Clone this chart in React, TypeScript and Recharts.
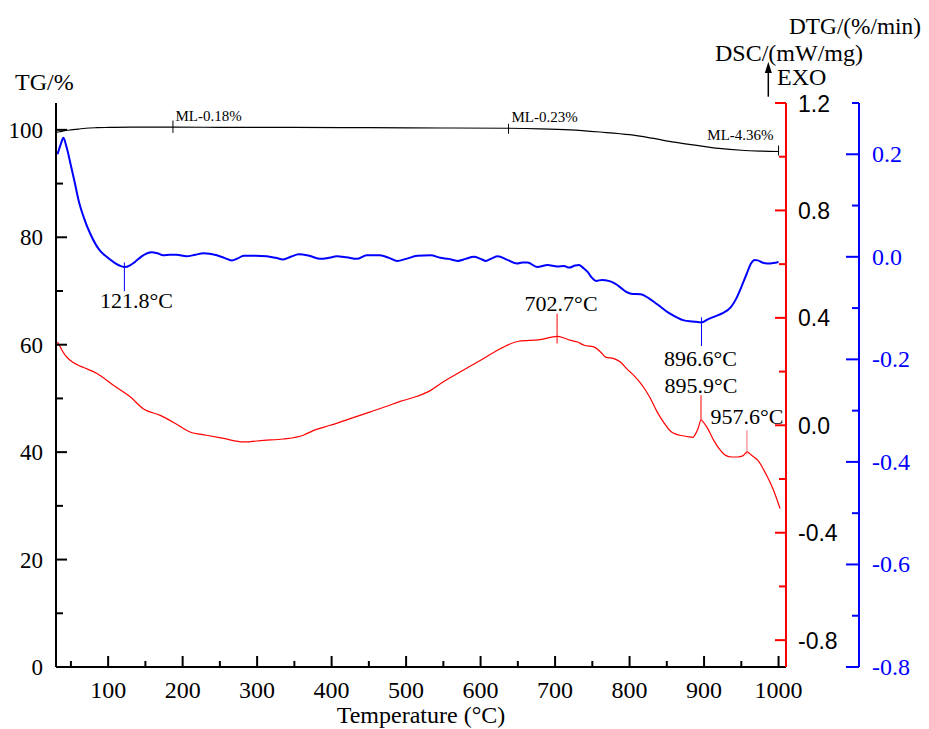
import React from "react";
import { LineChart, Line, XAxis, YAxis, ReferenceLine } from "recharts";

const SERIF = '"Liberation Serif", "Times New Roman", serif';
const SANS = '"Liberation Sans", Arial, sans-serif';

// TG (mass, %)
const tgTemp = [30, 35, 40, 50, 60, 70, 85, 100, 130, 187, 250, 350, 450, 550, 637.5, 680, 720, 760, 800, 830, 860, 890, 920, 950, 975, 1000];
const tgMass = [99.55, 99.65, 99.8, 100.0, 100.15, 100.3, 100.4, 100.45, 100.5, 100.5, 100.48, 100.45, 100.4, 100.35, 100.3, 100.2, 100.0, 99.6, 99.1, 98.45, 97.7, 97.1, 96.55, 96.2, 96.05, 95.97];

// DTG (%/min)
const dtgTemp = [32, 36, 40, 44, 50, 55, 60, 67, 76, 89, 98, 107, 115, 121.8, 130, 136, 145, 158, 166, 174, 183, 192, 205, 217, 228, 246, 256, 266, 274, 282, 298, 313, 325, 335, 345, 356, 370, 385, 396, 407, 420, 434, 447, 465, 477, 488, 500, 515, 533, 546, 557, 569, 580, 591, 600, 607, 615, 623, 636, 649, 656, 663, 676, 690, 703, 712, 719, 727, 732, 738, 744, 749, 755, 763, 772, 780, 788, 795, 802, 815, 825, 833, 842, 851, 862, 873, 885, 896.6, 905, 913, 925, 936, 943, 950, 957, 963, 968, 972, 978, 985, 993, 1000];
const dtgRate = [0.2, 0.218, 0.232, 0.215, 0.178, 0.146, 0.112, 0.078, 0.045, 0.012, 0.0, -0.01, -0.017, -0.02, -0.016, -0.01, 0.001, 0.009, 0.007, 0.003, 0.004, 0.004, 0.001, 0.004, 0.007, 0.003, -0.002, -0.007, -0.003, 0.002, 0.002, 0.001, -0.002, -0.005, 0.0, 0.005, 0.002, -0.004, -0.002, 0.001, -0.001, -0.004, 0.003, 0.003, -0.002, -0.008, -0.004, 0.002, 0.003, -0.002, -0.004, -0.008, -0.004, 0.0, -0.004, -0.008, -0.003, 0.001, -0.006, -0.013, -0.011, -0.011, -0.02, -0.016, -0.019, -0.018, -0.021, -0.017, -0.016, -0.022, -0.03, -0.04, -0.047, -0.045, -0.047, -0.052, -0.06, -0.068, -0.072, -0.073, -0.08, -0.088, -0.098, -0.108, -0.117, -0.124, -0.126, -0.128, -0.122, -0.117, -0.11, -0.098, -0.082, -0.059, -0.034, -0.013, -0.006, -0.007, -0.011, -0.013, -0.012, -0.01];

// DSC (mW/mg)
const dscTemp = [32, 36, 42, 49, 58, 67, 85, 107, 130, 147, 170, 192, 210, 232, 255, 282, 309, 335, 362, 376, 398, 425, 452, 474, 492, 515, 533, 546, 573, 600, 627, 651, 680, 703, 712, 721, 730, 739, 752, 761, 768, 779, 788, 797, 806, 820, 828, 837, 846, 855, 862, 869, 878, 885, 889, 892, 896, 899, 904, 913, 921, 929, 937, 945, 952, 958, 963, 972, 985, 993, 1002];
const dscFlow = [0.31, 0.29, 0.262, 0.242, 0.226, 0.215, 0.193, 0.149, 0.105, 0.062, 0.037, 0.004, -0.025, -0.037, -0.049, -0.062, -0.056, -0.051, -0.037, -0.019, 0.0, 0.025, 0.05, 0.071, 0.089, 0.108, 0.13, 0.155, 0.199, 0.242, 0.286, 0.313, 0.319, 0.331, 0.325, 0.316, 0.31, 0.298, 0.292, 0.273, 0.254, 0.248, 0.235, 0.208, 0.185, 0.137, 0.1, 0.05, 0.01, -0.022, -0.033, -0.038, -0.042, -0.045, -0.03, -0.012, 0.02, 0.012, -0.008, -0.056, -0.09, -0.112, -0.118, -0.118, -0.114, -0.099, -0.11, -0.13, -0.192, -0.24, -0.31];

// axis ticks
const xTicks = [50, 100, 150, 200, 250, 300, 350, 400, 450, 500, 550, 600, 650, 700, 750, 800, 850, 900, 950, 1000];
const tgTicks = [0, 10, 20, 30, 40, 50, 60, 70, 80, 90, 100];
const dscTicks = [-0.8, -0.6, -0.4, -0.2, 0, 0.2, 0.4, 0.6, 0.8, 1.0, 1.2];
const dtgTicks = [-0.8, -0.7, -0.6, -0.5, -0.4, -0.3, -0.2, -0.1, 0, 0.1, 0.2, 0.3];

// annotations: mass-loss marks on TG, peaks on DTG / DSC
const mlTemps = [187, 637.5, 1000];
const mlLabels = ["ML-0.18%", "ML-0.23%", "ML-4.36%"];
const mlSpans = [[101.73, 99.44], [101.12, 99.26], [97.08, 95.22]];

const dtgPeakTemps = [121.8, 896.6];
const dtgSpans = [[-0.011, -0.067], [-0.118, -0.174]];

const dscPeakTemps = [702.7, 895.9, 957.6];
const dscSpans = [[0.416, 0.304], [0.112, 0.021], [-0.0185, -0.108]];

const toPoints = (ts: number[], vs: number[]) => ts.map((t, i) => ({ t, v: vs[i] }));
const tgData = toPoints(tgTemp, tgMass);
const dtgData = toPoints(dtgTemp, dtgRate);
const dscData = toPoints(dscTemp, dscFlow);

const near = (a: number, b: number) => Math.abs(a - b) < 1e-6;
const isMajor = (v: number, step: number) => near(Math.round(v / step) * step, v);

function BottomTick(props: any) {
  const { x, y, payload } = props;
  const v = payload.value;
  const major = v % 100 === 0;
  return (
    <g>
      <line x1={x} x2={x} y1={y} y2={y - (major ? 11 : 6)} stroke="#000" strokeWidth={2} />
      {major && (
        <text x={x} y={y + 31} textAnchor="middle" fontSize={24} fontFamily={SERIF} fill="#000">
          {v}
        </text>
      )}
    </g>
  );
}

function TopTick(props: any) {
  const { x, y } = props;
  return <line x1={x} x2={x} y1={y} y2={y + 3} stroke="#555" strokeWidth={1} />;
}

function LeftTick(props: any) {
  const { x, y, payload } = props;
  const v = payload.value;
  const major = v % 20 === 0;
  return (
    <g>
      <line x1={x} x2={x + (major ? 11 : 7)} y1={y} y2={y} stroke="#000" strokeWidth={2} />
      {major && (
        <text x={x - 13} y={y + 8} textAnchor="end" fontSize={23} fontFamily={SERIF} fill="#000">
          {v}
        </text>
      )}
    </g>
  );
}

function DscTick(props: any) {
  const { x, y, payload } = props;
  const v = payload.value;
  const major = isMajor(v, 0.4);
  return (
    <g>
      <line x1={x} x2={x - (major ? 11 : 7)} y1={y} y2={y} stroke="#ff0000" strokeWidth={2} />
      {major && (
        <text x={x + 12} y={y + 8.5} textAnchor="start" fontSize={23} fontFamily={SANS} fill="#000">
          {v.toFixed(1)}
        </text>
      )}
    </g>
  );
}

function DtgTick(props: any) {
  const { x, y, payload } = props;
  const v = payload.value;
  const major = isMajor(v, 0.2);
  return (
    <g>
      <line x1={x} x2={x - (major ? 13 : 7)} y1={y} y2={y} stroke="#0000ff" strokeWidth={2} />
      {major && (
        <text x={x + 13} y={y + 8} textAnchor="start" fontSize={24} fontFamily={SERIF} fill="#0000ff">
          {v.toFixed(1)}
        </text>
      )}
    </g>
  );
}

// label next to a vertical marker; baseline measured from the marker's top or bottom end
const markLabel =
  (text: string, end: "top" | "bottom", dy: number, dx = 0, anchor = "middle", size = 22) =>
  (props: any) => {
    const vb = props.viewBox || {};
    const x = vb.x + (vb.width || 0) / 2 + dx;
    const y = end === "top" ? vb.y - dy : vb.y + vb.height + dy;
    return (
      <text x={x} y={y} textAnchor={anchor} fontSize={size} fontFamily={SERIF} fill="#000">
        {text}
      </text>
    );
  };

const dtgLabelPos = [
  { dy: 16.5, dx: 12 },
  { dy: 19.5, dx: -1 },
];
const dscLabelPos = [
  { end: "top" as const, dy: 2.6, dx: 4 },
  { end: "top" as const, dy: 2.3, dx: 0 },
  { end: "top" as const, dy: 6, dx: 0 },
];
const mlLabelPos = [
  { dx: 2.5, dy: 0, anchor: "start" },
  { dx: 3, dy: 2, anchor: "start" },
  { dx: -5, dy: 6, anchor: "end" },
];
const dscMarkColors = ["#ff0000", "#ff0000", "#f07070"];

export default function App() {
  return (
    <div style={{ position: "absolute", left: 0, top: 0, width: 929, height: 729, background: "#fff" }}>
      <LineChart width={929} height={729} margin={{ top: 103, right: 10, bottom: 0, left: 0 }}>
        <XAxis
          xAxisId="bottom"
          dataKey="t"
          type="number"
          domain={[30, 1010]}
          allowDataOverflow
          ticks={xTicks}
          interval={0}
          height={62}
          tickSize={0}
          tickMargin={0}
          tickLine={false}
          tick={<BottomTick />}
          axisLine={{ stroke: "#000", strokeWidth: 2 }}
          label={{
            value: "Temperature (°C)",
            position: "insideBottom",
            offset: 6,
            fontSize: 24,
            fontFamily: SERIF,
            fill: "#000",
          }}
        />
        <XAxis
          xAxisId="top"
          orientation="top"
          dataKey="t"
          type="number"
          domain={[30, 1010]}
          allowDataOverflow
          ticks={xTicks}
          interval={0}
          height={0}
          tickSize={0}
          tickMargin={0}
          tickLine={false}
          tick={<TopTick />}
          axisLine={{ stroke: "#000", strokeWidth: 2 }}
        />
        <YAxis
          yAxisId="tg"
          orientation="left"
          type="number"
          domain={[0, 105]}
          allowDataOverflow
          ticks={tgTicks}
          interval={0}
          width={56}
          tickSize={0}
          tickMargin={0}
          tickLine={false}
          tick={<LeftTick />}
          axisLine={{ stroke: "#000", strokeWidth: 2 }}
        />
        <YAxis
          yAxisId="dsc"
          orientation="right"
          type="number"
          domain={[-0.9, 1.2]}
          allowDataOverflow
          ticks={dscTicks}
          interval={0}
          width={73}
          tickSize={0}
          tickMargin={0}
          tickLine={false}
          tick={<DscTick />}
          axisLine={{ stroke: "#ff0000", strokeWidth: 2 }}
        />
        <YAxis
          yAxisId="dtg"
          orientation="right"
          type="number"
          domain={[-0.8, 0.3]}
          allowDataOverflow
          ticks={dtgTicks}
          interval={0}
          width={60}
          tickSize={0}
          tickMargin={0}
          tickLine={false}
          tick={<DtgTick />}
          axisLine={{ stroke: "#0000ff", strokeWidth: 2 }}
        />

        <Line
          data={tgData}
          dataKey="v"
          xAxisId="bottom"
          yAxisId="tg"
          type="monotone"
          stroke="#000"
          strokeWidth={1.2}
          dot={false}
          activeDot={false}
          isAnimationActive={false}
        />
        <Line
          data={dtgData}
          dataKey="v"
          xAxisId="bottom"
          yAxisId="dtg"
          type="monotone"
          stroke="#0000ff"
          strokeWidth={2}
          dot={false}
          activeDot={false}
          isAnimationActive={false}
        />
        <Line
          data={dscData}
          dataKey="v"
          xAxisId="bottom"
          yAxisId="dsc"
          type="monotone"
          stroke="#ff0000"
          strokeWidth={1.2}
          dot={false}
          activeDot={false}
          isAnimationActive={false}
        />

        {mlTemps.map((t, i) => (
          <ReferenceLine
            key={"ml" + i}
            xAxisId="bottom"
            yAxisId="tg"
            segment={[
              { x: t, y: mlSpans[i][0] },
              { x: t, y: mlSpans[i][1] },
            ]}
            stroke="#000"
            strokeWidth={1}
            ifOverflow="visible"
            label={markLabel(mlLabels[i], "top", mlLabelPos[i].dy, mlLabelPos[i].dx, mlLabelPos[i].anchor, 15)}
          />
        ))}
        {dtgPeakTemps.map((t, i) => (
          <ReferenceLine
            key={"dtg" + i}
            xAxisId="bottom"
            yAxisId="dtg"
            segment={[
              { x: t, y: dtgSpans[i][0] },
              { x: t, y: dtgSpans[i][1] },
            ]}
            stroke="#0000ff"
            strokeWidth={1}
            ifOverflow="visible"
            label={markLabel(t.toFixed(1) + "°C", "bottom", dtgLabelPos[i].dy, dtgLabelPos[i].dx)}
          />
        ))}
        {dscPeakTemps.map((t, i) => (
          <ReferenceLine
            key={"dsc" + i}
            xAxisId="bottom"
            yAxisId="dsc"
            segment={[
              { x: t, y: dscSpans[i][0] },
              { x: t, y: dscSpans[i][1] },
            ]}
            stroke={dscMarkColors[i]}
            strokeWidth={1}
            ifOverflow="visible"
            label={markLabel(t.toFixed(1) + "°C", dscLabelPos[i].end, dscLabelPos[i].dy, dscLabelPos[i].dx)}
          />
        ))}
      </LineChart>

      <svg
        width={929}
        height={729}
        style={{ position: "absolute", left: 0, top: 0, pointerEvents: "none" }}
      >
        <g fontFamily={SERIF} fill="#000">
          <text x={15} y={90} fontSize={24}>TG/%</text>
          <text x={789} y={34} fontSize={23.3}>DTG/(%/min)</text>
          <text x={715} y={61} fontSize={24}>DSC/(mW/mg)</text>
          <text x={777} y={85} fontSize={24}>EXO</text>
        </g>
        <line x1={768.3} x2={768.3} y1={72} y2={96.7} stroke="#000" strokeWidth={1.5} />
        <polygon points="768.3,61.7 764.8,73 771.8,73" fill="#000" />
      </svg>
    </div>
  );
}
